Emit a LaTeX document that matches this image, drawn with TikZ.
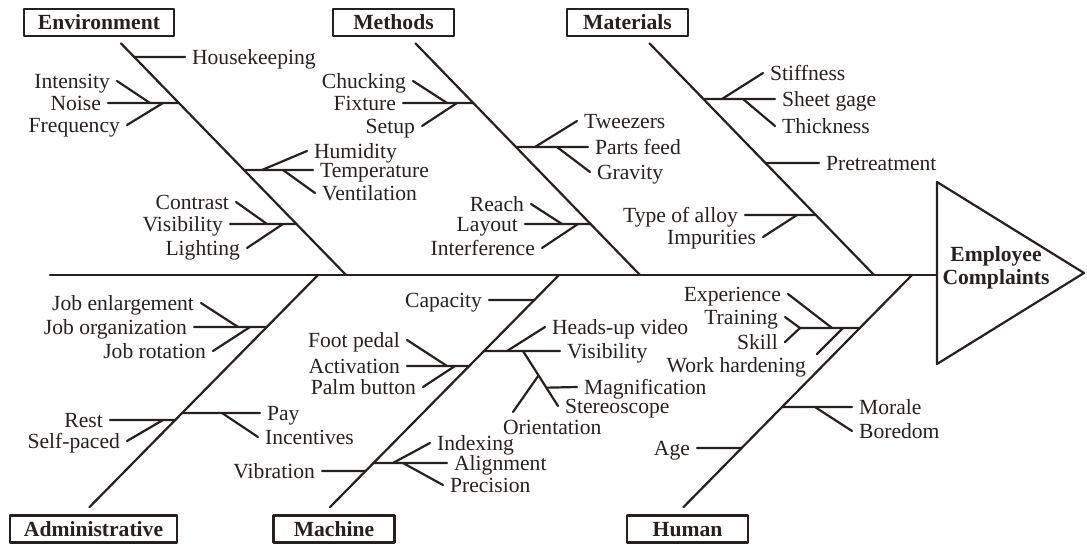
\documentclass[tikz,border=0pt]{standalone}
\usepackage{fontspec}
\setmainfont{Liberation Serif}
\usetikzlibrary{calc}
\definecolor{ink}{RGB}{38,33,30}
\newcommand{\fishfont}{\fontsize{10.8}{11.6}\selectfont}
\begin{document}
\begin{tikzpicture}[font=\fishfont, line join=round, line cap=round, x=0.5pt, y=-0.5pt, line width=1.1pt, color=ink,
  lbl/.style={inner xsep=3pt, inner ysep=1pt, text height=9.5pt, text depth=2.3pt},
  catbox/.style={draw, line width=1.4pt, font=\fishfont\bfseries, minimum width=60.5pt, minimum height=13.5pt, inner xsep=7pt, inner ysep=0.8pt, text height=9.3pt, text depth=2.3pt}]
\useasboundingbox (0,0) rectangle (1087,545);
\foreach \n/\x/\y/\t in {env/99/22.5/Environment, mtd/393.5/22.5/Methods, mtl/627.5/22.5/Materials, adm/93.5/529/Administrative, mac/334/529/Machine, hmn/687.5/529/Human}
  \node[catbox] (\n) at (\x,\y) {\t};
\coordinate (sp) at (50,275);
\coordinate (se) at (937,275);
\draw (sp) -- (se);
\draw (937,182) coordinate (ta) -- (1084,273) coordinate (tb) -- (937,364) coordinate (tc) -- cycle;
\node[font=\fishfont\bfseries, align=center] (cmp) at (996,268) {Employee\\Complaints};
\coordinate (q1) at ([shift={(11pt,-3pt)}]env.south);
\coordinate (q2) at ([shift={(11pt,-3pt)}]mtd.south);
\coordinate (q3) at ([shift={(11pt,-3pt)}]mtl.south);
\coordinate (q4) at ([shift={(-2pt,3.5pt)}]adm.north);
\coordinate (q5) at ([shift={(-2pt,3.5pt)}]mac.north);
\coordinate (q6) at ([shift={(-2pt,3.5pt)}]hmn.north);
\foreach \n/\x in {r1/346, r2/640, r3/874, r4/318, r5/559, r6/912}
  \coordinate (\n) at (\x,275);
\foreach \i in {1,...,6}
  \draw (q\i) -- (r\i);
\foreach \n/\q/\r/\h in {e1/q1/r1/57, e2/q1/r1/103, e3/q1/r1/170, e4/q1/r1/224, m1/q2/r2/103, m2/q2/r2/147, m3/q2/r2/224, t1/q3/r3/99, t2/q3/r3/163, t3/q3/r3/215, a1/q4/r4/327, a2/q4/r4/413, a3/q4/r4/420, c1/q5/r5/300, c2/q5/r5/366, c3/q5/r5/351, c4/q5/r5/463, c5/q5/r5/471, h1/q6/r6/328, h2/q6/r6/407, h3/q6/r6/448}
  \coordinate (\n) at (intersection cs: first line={(\q)--(\r)}, second line={(0,\h)--(1,\h)});
\foreach \n/\x/\y in {e2a/150/103, e2b/163/103, e3a/262/170, e3b/283/170, e4a/267/224, e4b/283/224, m1a/447/103, m1b/457/103, m2a/535/147, m2b/557/147, m3a/562/224, m3b/578/224, t1a/722/99, t1b/743/99, t3a/797/215, a1a/238/327, a1b/250/327, a2a/222/413, a3a/163/420, c2a/447/366, c2b/455/366, c3a/507/351, c3b/523/351, c4a/393/463, c4b/403/463, h1a/800/328, h1b/832/328, h1c/843/328, h1d/817/354, h2a/815/407}
  \coordinate (\n) at (\x,\y);
\foreach \n/\x/\y/\a/\t in {hk/185/57/west/Housekeeping, int/117/81/east/Intensity, noi/108/103/east/Noise, frq/127/125/east/Frequency, hmd/307/151/west/Humidity, tmp/313/170/west/Temperature, ven/315/193/west/Ventilation, con/236/202/east/Contrast, vsa/230/224/east/Visibility, lig/247/248/east/Lighting,
    chk/413/81/east/Chucking, fix/403/103/east/Fixture, stp/422/126/east/Setup, twz/577/121/west/Tweezers, prt/588/147/west/Parts feed, grv/590/172/west/Gravity, rch/531/204/east/Reach, lay/525/224/east/Layout, inf/542/248/east/Interference,
    stf/763/73/west/Stiffness, shg/775/99/west/Sheet gage, thk/775/126/west/Thickness, pre/819/163/west/Pretreatment, tal/745/215/east/Type of alloy, imp/763/237/east/Impurities,
    jen/201/303/east/Job enlargement, jor/194/327/east/Job organization, jro/213/351/east/Job rotation, pay/260/413/west/Pay, inc/258/437/west/Incentives, rst/110/420/east/Rest, slf/127/441/east/Self-paced,
    cap/489/300/east/Capacity, ftp/407/340/east/Foot pedal, act/407/366/east/Activation, plm/423/387/east/Palm button, hud/545/327/west/Heads-up video, vsb/560/351/west/Visibility, mag/577/387/west/Magnification, sto/558/406/west/Stereoscope, idx/430/443/west/Indexing, aln/447/463/west/Alignment, prc/443/485/west/Precision, vib/322/471/east/Vibration,
    exp/788/294/east/Experience, trn/785/317/east/Training, skl/785/342/east/Skill, whd/813/365/east/Work hardening, mor/852/407/west/Morale, bor/852/431/west/Boredom, age/697/448/east/Age}
  \node[lbl, anchor=\a] (\n) at (\x,\y) {\t};
\node[lbl, anchor=north west] (ori) at (496,412) {Orientation};
\coordinate (c3c) at ($(c3b)!0.667!(sto.west)$);
\coordinate (c3d) at ($(c3b)!0.444!(sto.west)$);
\foreach \a/\b in {e1/hk.west, noi.east/e2, int.east/e2a, frq.east/e2b, e3/tmp.west, e3a/hmd.west, e3b/ven.west, vsa.east/e4, con.east/e4a, lig.east/e4b,
    fix.east/m1, chk.east/m1a, stp.east/m1b, m2/prt.west, m2a/twz.west, m2b/grv.west, lay.east/m3, rch.east/m3a, inf.east/m3b,
    t1/shg.west, t1a/stf.west, t1b/thk.west, t2/pre.west, tal.east/t3, imp.east/t3a,
    jor.east/a1, jen.east/a1a, jro.east/a1b, a2/pay.west, a2a/inc.west, rst.east/a3, slf.east/a3a,
    cap.east/c1, act.east/c2, ftp.east/c2a, plm.east/c2b, c3/vsb.west, c3a/hud.west, c3b/sto.west, c3c/mag.west, c4/aln.west, c4a/idx.west, c4b/prc.west, vib.east/c5,
    h1a/h1, trn.east/h1a, skl.east/h1a, exp.east/h1b, h1d/h1c, h2/mor.west, h2a/bor.west, age.east/h3}
  \draw (\a) -- (\b);
\draw (c3d) -- ([xshift=8.5pt]ori.north west);
\end{tikzpicture}
\end{document}
